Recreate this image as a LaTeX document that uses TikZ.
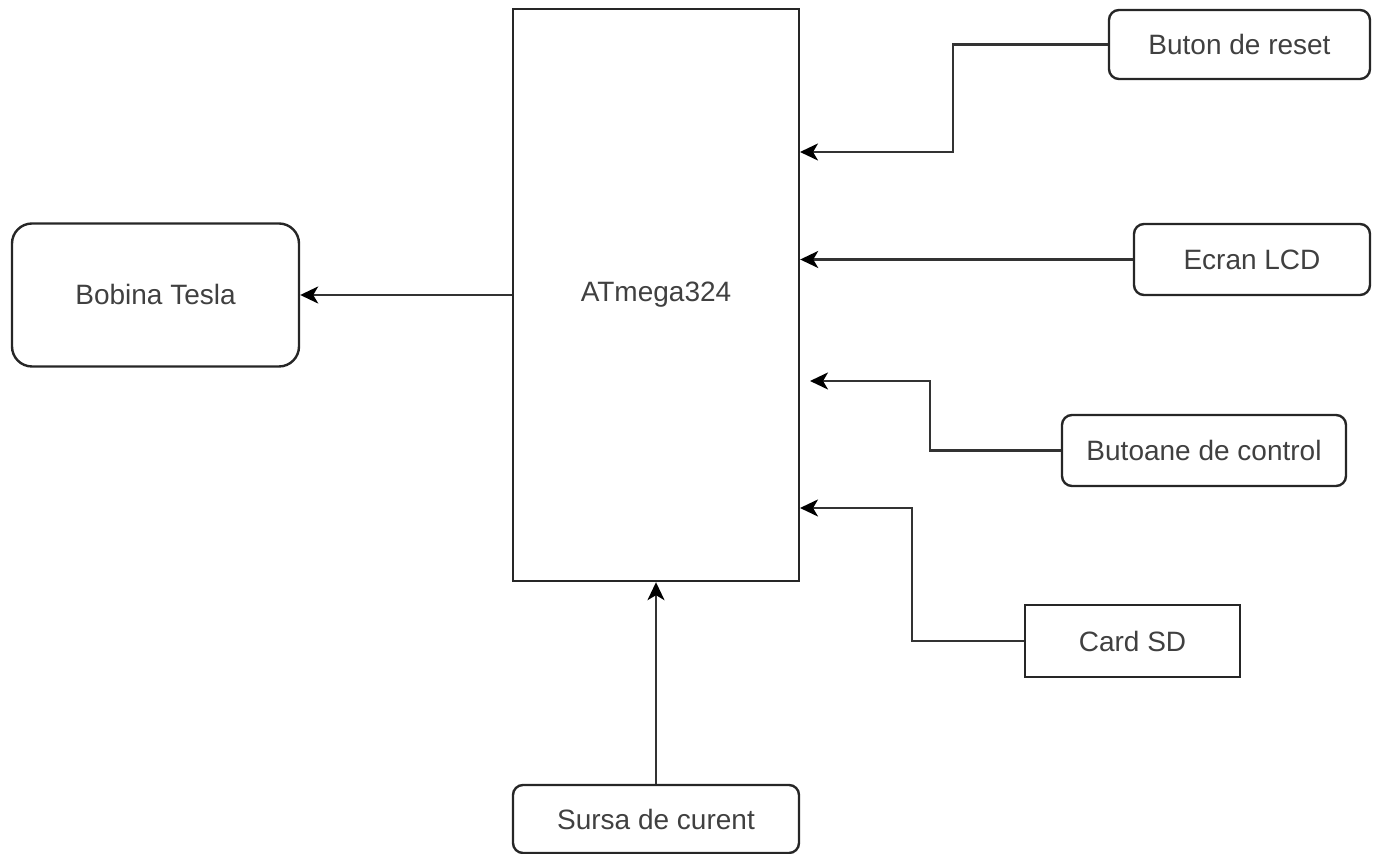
\documentclass[tikz,border=0pt]{standalone}
\usepackage{fontspec}
\setmainfont{Liberation Sans}
\usepackage{tikz}
\usetikzlibrary{arrows.meta}

\begin{document}
\begin{tikzpicture}[
  x=0.5pt, y=-0.5pt,
  every node/.style={font=\fontsize{14}{17}\selectfont, text=black!75},
  blk/.style={draw=black!85, line width=1.2pt, inner sep=0pt},
  rblk/.style={blk, rounded corners=5pt},
  link/.style={draw=black!80, line width=1.2pt, -{Stealth[length=9pt,width=8.5pt,inset=2.5pt,color=black]}}
]

\useasboundingbox (0,0) rectangle (1378,854);

\node [blk, minimum width=143pt, minimum height=286pt] (mcu) at (656,295) {ATmega324};
\node [blk, rounded corners=10pt, minimum width=143.5pt, minimum height=71.5pt] (tesla) at (155.5,295) {Bobina Tesla};

\node [rblk, minimum width=130.5pt, minimum height=34.5pt] (reset) at (1239.5,44.5) {Buton de reset};
\node [rblk, minimum width=118pt, minimum height=35.5pt] (lcd) at (1252,259.5) {Ecran LCD};
\node [rblk, minimum width=142pt, minimum height=35.5pt] (ctrl) at (1204,450.5) {Butoane de control};
\node [blk, minimum width=107.5pt, minimum height=36pt] (sd) at (1132.5,641) {Card SD};
\node [rblk, minimum width=143pt, minimum height=34pt] (power) at (656,819) {Sursa de curent};

\coordinate (in1) at (800,152);
\coordinate (in3) at (810,381);
\coordinate (in4) at (800,508);

\draw [link] (mcu.west) -- (tesla.east);
\draw [link] (reset.west) -- ++(-155,0) |- (in1);
\draw [link] (lcd.west) -- (mcu.east |- lcd.west);
\draw [link] (ctrl.west) -- ++(-131,0) |- (in3);
\draw [link] (sd.west) -- ++(-112,0) |- (in4);
\draw [link] (power.north) -- (mcu.south);

\end{tikzpicture}
\end{document}
